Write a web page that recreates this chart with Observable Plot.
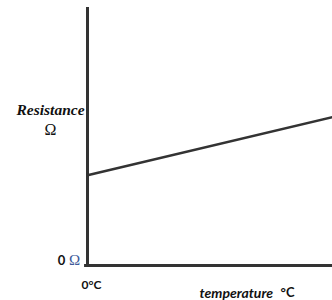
<!DOCTYPE html>
<html>
<head>
<meta charset="utf-8">
<script src="https://cdn.jsdelivr.net/npm/d3@7"></script>
<script src="https://cdn.jsdelivr.net/npm/@observablehq/plot@0.6"></script>
<style>
  html, body { margin: 0; padding: 0; background: #fff; }
  #chart svg { display: block; }
</style>
</head>
<body>
<div id="chart"></div>
<script>
// Data
const temperature = [0, 100];
const resistance = [35, 57.5];
const yLabel = ["Resistance", "Ω"];
const yTickLabel = ["0", "Ω"];
const xTickLabel = ["0°C"];
const xLabel = ["temperature", "°C"];

const rows = temperature.map((t, i) => ({t, r: resistance[i]}));
const axisColor = "#333";
const common = {text: d => d, lineAnchor: "middle", textAnchor: "middle", fill: "#111"};

const chart = Plot.plot({
  width: 332,
  height: 300,
  marginLeft: 87,
  marginRight: 0,
  marginTop: 7,
  marginBottom: 35,
  x: {domain: [0, 100], axis: null},
  y: {domain: [0, 100], axis: null},
  style: {background: "#fff", overflow: "visible"},
  marks: [
    Plot.ruleX([0], {stroke: axisColor, strokeWidth: 3}),
    Plot.ruleY([0], {stroke: axisColor, strokeWidth: 3, x1: -1.2, x2: 100}),
    Plot.line(rows, {x: "t", y: "r", stroke: axisColor, strokeWidth: 2.5}),
    Plot.text([yLabel[0]], {...common, frameAnchor: "top-left", dx: -37, dy: 103,
      fontFamily: "Liberation Serif", fontWeight: "bold", fontStyle: "italic", fontSize: 15.5}),
    Plot.text([yLabel[1]], {...common, frameAnchor: "top-left", dx: -37, dy: 122,
      fontFamily: "Liberation Serif", fontSize: 16}),
    Plot.text([yTickLabel[0]], {...common, frameAnchor: "bottom-left", dx: -26, dy: -5,
      fontFamily: "Lato", fontWeight: "bold", fontSize: 13}),
    Plot.text([yTickLabel[1]], {...common, frameAnchor: "bottom-left", dx: -13, dy: -5,
      fontFamily: "Liberation Serif", fontSize: 15, fill: "#3d5a99"}),
    Plot.text([xTickLabel[0]], {...common, frameAnchor: "bottom-left", dx: 4, dy: 20,
      fontFamily: "Lato", fontWeight: "bold", fontSize: 12}),
    Plot.text([xLabel[0]], {...common, frameAnchor: "bottom-left", textAnchor: "start", dx: 112, dy: 28,
      fontFamily: "Lato", fontWeight: "bold", fontStyle: "italic", fontSize: 14}),
    Plot.text([xLabel[1]], {...common, frameAnchor: "bottom-left", textAnchor: "start", dx: 193, dy: 27,
      fontFamily: "Lato", fontWeight: "bold", fontSize: 13})
  ]
});
document.getElementById("chart").appendChild(chart);
</script>
</body>
</html>
